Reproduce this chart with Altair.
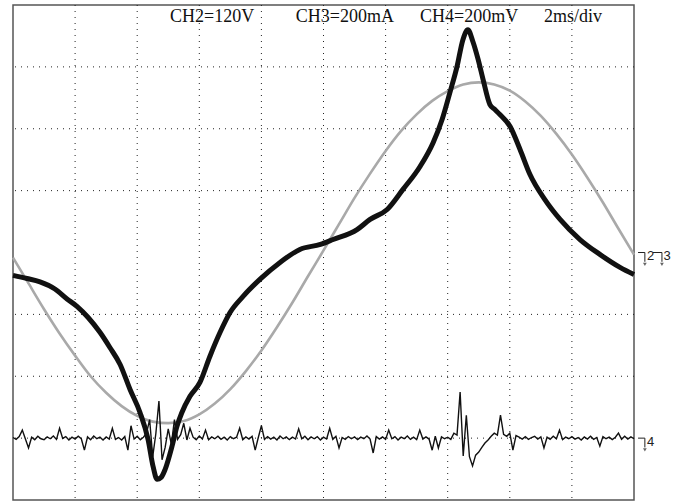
import altair as alt
import pandas as pd

# ---------------- data ----------------
# CH2 : mains voltage (grey), 120 V/div, time in ms (2 ms/div)
ch2_time = [0.0, 0.5, 1.0, 1.5, 2.0, 2.5, 3.0, 3.5, 4.0, 4.5, 5.0,
            5.5, 6.0, 6.5, 7.0, 7.5, 8.0, 8.5, 9.0, 9.5, 10.0,
            10.5, 11.0, 11.5, 12.0, 12.5, 13.0, 13.5, 14.0, 14.5, 15.0,
            15.5, 16.0, 16.5, 17.0, 17.5, 18.0, 18.5, 19.0, 19.5, 20.0]
ch2_volts = [-10, -60, -110, -157, -200, -240, -272, -298, -317, -328, -331,
             -327, -314, -293, -265, -230, -190, -145, -97, -46, 4,
             55, 106, 153, 197, 236, 268, 294, 313, 326, 330,
             326, 314, 293, 265, 230, 190, 145, 97, 46, -4]

# CH3 : current (thick black), 200 mA/div
ch3_time = [0.00, 0.45, 0.87, 1.35, 1.74, 2.06, 2.42, 2.80, 3.12, 3.45,
            3.77, 4.09, 4.35, 4.51, 4.64, 4.77, 4.90, 5.12, 5.28, 5.44,
            5.70, 6.02, 6.34, 6.67, 6.99, 7.41, 7.95, 8.60, 9.24, 9.90,
            10.31, 11.08, 11.50, 12.05, 12.56, 13.11, 13.53, 13.82, 14.07, 14.30,
            14.49, 14.65, 14.81, 14.98, 15.14, 15.36, 15.52, 15.68, 16.01, 16.33,
            16.65, 17.13, 17.62, 18.26, 18.90, 19.55, 20.00]
ch3_mA = [-74, -84, -95, -118, -150, -174, -210, -258, -307, -362,
          -443, -517, -604, -691, -733, -727, -701, -627, -562, -517,
          -465, -420, -336, -258, -194, -142, -87, -32, 10, 26,
          42, 74, 107, 139, 204, 278, 355, 430, 517, 601,
          688, 720, 682, 624, 559, 478, 462, 446, 407, 333,
          252, 171, 107, 42, -6, -48, -71]

# CH4 : sensor voltage (thin black), 200 mV/div, ground 3 div below centre
ch4_mV = [2, -4, 5, 26, -3, -32, 3, -5, 6, -2,
          -5, 4, -2, 7, -4, 32, -1, 5, -6, 3,
          -3, 6, -2, -39, 4, -5, 7, -2, 3, -6,
          4, -3, 32, -4, 2, -6, 5, -39, 40, -3,
          6, -5, 3, 16, 60, -60, 14, 120, -70, -30,
          30, -20, 60, -4, 11, 48, -6, 32, 3, -5,
          7, -3, 26, -5, 4, -2, 6, -4, 3, -6,
          5, -2, 3, 32, -5, 4, -3, 6, -39, 2,
          40, -4, 5, -3, 3, -6, 7, -2, 4, -5,
          3, -3, 30, -2, 6, -5, 4, -2, 5, -6,
          3, -3, 32, -4, 6, -32, 2, -4, 5, -2,
          4, -5, 3, -2, 7, -3, -48, 5, -3, 4,
          -4, 26, -2, 5, -6, 3, -2, 7, -4, 3,
          -5, 26, -3, 4, -3, -39, 6, -32, 4, -2,
          3, -4, 16, 10, 149, -58, 74, -60, -90, -55,
          -45, -30, -16, -6, 6, 16, 10, 74, 12, 6,
          16, -39, 8, 3, -3, 5, -4, 2, 6, -3,
          4, -32, 3, -4, 6, -2, 26, -5, 3, -2,
          5, -3, 2, -6, 4, -3, 6, -4, 2, -26,
          5, -2, 3, -5, 3, 16, -4, 6, -3, 4,
          -2]
ch4_time = [i * 0.1 for i in range(len(ch4_mV))]

header_labels = ["CH2=120V", "CH3=200mA", "CH4=200mV", "2ms/div"]
header_time = [5.06, 9.11, 13.11, 17.10]

grid_t = [2, 4, 6, 8, 10, 12, 14, 16, 18]
grid_div = [-3, -2, -1, 1, 2, 3]

# ---------------- frames ----------------
df2 = pd.DataFrame({"t": ch2_time, "y": [v / 120 for v in ch2_volts]})
df3 = pd.DataFrame({"t": ch3_time, "y": [v / 200 for v in ch3_mA]})
df4 = pd.DataFrame({"t": ch4_time, "y": [v / 200 - 3 for v in ch4_mV]})

W, H = 621, 495
xs = alt.Scale(domain=[0, 20], nice=False, zero=False)
ys = alt.Scale(domain=[-4, 4], nice=False, zero=False)

X = lambda f: alt.X(f, type="quantitative", scale=xs, axis=None)
Y = lambda f: alt.Y(f, type="quantitative", scale=ys, axis=None)

vgrid = alt.Chart(pd.DataFrame({"t": grid_t})).mark_rule(
    color="#222", strokeWidth=1, strokeDash=[1, 5]).encode(x=X("t"))
hgrid = alt.Chart(pd.DataFrame({"y": grid_div})).mark_rule(
    color="#222", strokeWidth=1, strokeDash=[1, 5]).encode(y=Y("y"))

line2 = alt.Chart(df2).mark_line(color="#a9a9a9", strokeWidth=2.6,
                                 interpolate="monotone").encode(x=X("t"), y=Y("y"))
line4 = alt.Chart(df4).mark_line(color="#111", strokeWidth=1.4).encode(x=X("t"), y=Y("y"))
line3 = alt.Chart(df3).mark_line(color="#111", strokeWidth=5,
                                 interpolate="monotone").encode(x=X("t"), y=Y("y"))

hdr = alt.Chart(pd.DataFrame({"t": header_time, "y": [3.73] * 4, "txt": header_labels})).mark_text(
    font="Liberation Serif", fontSize=18, align="left", baseline="alphabetic", color="#111"
).encode(x=X("t"), y=Y("y"), text="txt:N")

# ground markers on the right edge
mk_h = pd.DataFrame({"t": [20.13, 20.61, 20.13], "t2": [20.35, 20.90, 20.35],
                     "y": [0.0, 0.0, -3.0]})
mk_v = pd.DataFrame({"t": [20.35, 20.90, 20.35], "y": [0.0, 0.0, -3.0],
                     "y2": [-0.15, -0.15, -3.15]})
mk_g = pd.DataFrame({"t": [20.35, 20.90, 20.35], "y": [-0.19, -0.19, -3.19]})
mk_t = pd.DataFrame({"t": [20.42, 20.95, 20.42], "y": [-0.12, -0.12, -3.12],
                     "txt": ["2", "3", "4"]})

m1 = alt.Chart(mk_h).mark_rule(color="#222", strokeWidth=1).encode(x=X("t"), x2="t2:Q", y=Y("y"))
m2 = alt.Chart(mk_v).mark_rule(color="#222", strokeWidth=1).encode(x=X("t"), y=Y("y"), y2="y2:Q")
m3 = alt.Chart(mk_g).mark_point(shape="triangle-down", filled=True, size=14, color="#222").encode(
    x=X("t"), y=Y("y"))
m4 = alt.Chart(mk_t).mark_text(font="Liberation Sans", fontSize=13, align="left",
                               baseline="alphabetic", color="#222").encode(
    x=X("t"), y=Y("y"), text="txt:N")

chart = alt.layer(vgrid, hgrid, line2, line3, line4, hdr, m1, m2, m3, m4).properties(
    width=W, height=H,
    autosize=alt.AutoSizeParams(type="none"),
    padding={"left": 13, "top": 5, "right": 58, "bottom": 2},
    background="white",
).configure_view(stroke="#555", strokeWidth=1.5)

chart.save("out.html", embed_options={"renderer": "svg", "actions": False})
